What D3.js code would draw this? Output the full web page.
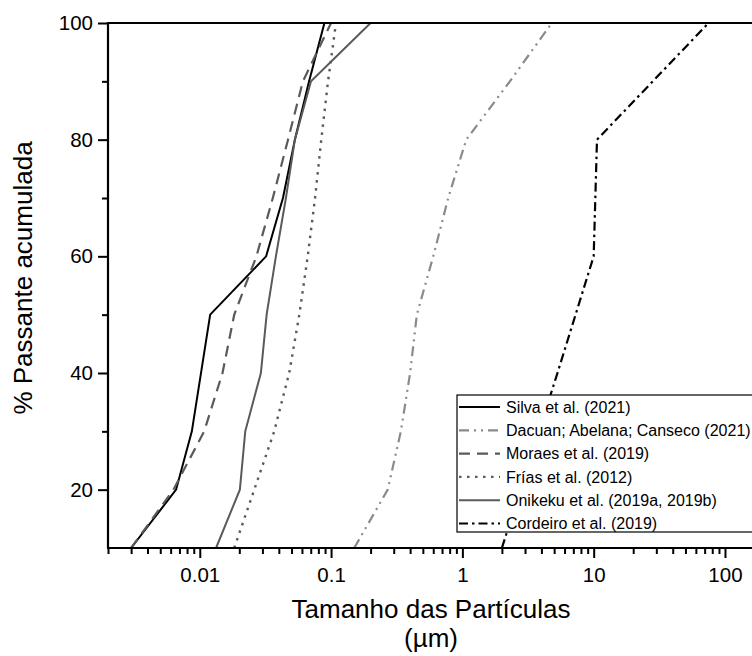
<!DOCTYPE html>
<html>
<head>
<meta charset="utf-8">
<script src="https://cdn.jsdelivr.net/npm/d3@7"></script>
<style>
  html, body { margin: 0; padding: 0; background: #fff; }
  svg { display: block; font-family: "Liberation Sans", Arial, sans-serif; }
</style>
</head>
<body>
<svg id="chart" width="752" height="656"></svg>
<script>
// ---- data (particle size in µm, cumulative % passing) ----
const seriesNames = [
  "Silva et al. (2021)",
  "Dacuan; Abelana; Canseco (2021)",
  "Moraes et al. (2019)",
  "Frías et al. (2012)",
  "Onikeku et al. (2019a, 2019b)",
  "Cordeiro et al. (2019)"
];
const silva    = [[0.003,10],[0.0066,20],[0.0087,30],[0.012,50],[0.032,60],[0.043,70],[0.053,80],[0.068,90],[0.089,100]];
const dacuan   = [[0.15,10],[0.27,20],[0.34,30],[0.40,40],[0.45,50],[0.60,60],[0.78,70],[1.07,80],[2.3,90],[4.8,100]];
const moraes   = [[0.003,10],[0.0063,20],[0.0108,30],[0.0149,40],[0.0183,50],[0.027,60],[0.036,70],[0.047,80],[0.061,90],[0.1,100]];
const frias    = [[0.0183,10],[0.026,20],[0.0369,30],[0.048,40],[0.0573,50],[0.0664,60],[0.0755,70],[0.0842,80],[0.0948,90],[0.109,100]];
const onikeku  = [[0.0133,10],[0.0202,20],[0.0222,30],[0.0292,40],[0.0323,50],[0.038,60],[0.0453,70],[0.053,80],[0.0703,90],[0.2,100]];
const cordeiro = [[2.0,10],[5.3,40],[10.0,60],[10.6,80],[75,100]];
const xDomain = [0.002, 1000];
const yDomain = [10, 100];
const xMajorTicks = [0.01, 0.1, 1, 10, 100];
const xTickLabels = ["0.01", "0.1", "1", "10", "100"];
const yMajorTicks = [20, 40, 60, 80, 100];
const yMinorTicks = [30, 50, 70, 90];
const xTitle = ["Tamanho das Partículas", "(µm)"];
const yTitle = "% Passante acumulada";

// ---- styles ----
const styles = [
  { data: silva,    color: "#000",    width: 2,   dash: null },
  { data: dacuan,   color: "#8a8a8a", width: 2.2, dash: "10,5,2,5,2,5" },
  { data: moraes,   color: "#5a5a5a", width: 2.2, dash: "11,7" },
  { data: frias,    color: "#5a5a5a", width: 2.4, dash: "2.5,5.5" },
  { data: onikeku,  color: "#5a5a5a", width: 2,   dash: null },
  { data: cordeiro, color: "#000",    width: 2.2, dash: "9,4,2.5,4" }
];

const svg = d3.select("#chart");
const mLeft = 108, mTop = 23, mBottom = 548;
const decade = 131.3;
const x = d3.scaleLog().domain(xDomain)
  .range([mLeft, mLeft + decade * Math.log10(xDomain[1] / xDomain[0])]);
const y = d3.scaleLinear().domain(yDomain).range([mBottom, mTop]);

// lines
const line = d3.line().x(d => x(d[0])).y(d => y(d[1]));
styles.forEach(s => {
  svg.append("path").datum(s.data)
    .attr("d", line)
    .attr("fill", "none")
    .attr("stroke", s.color)
    .attr("stroke-width", s.width)
    .attr("stroke-dasharray", s.dash)
    .attr("stroke-linejoin", "miter");
});

// x minor ticks
const xMinor = [];
for (let e = -3; e <= 2; e++) {
  for (let m = 2; m <= 9; m++) {
    const v = m * Math.pow(10, e);
    if (v >= xDomain[0] && v <= xDomain[1]) xMinor.push(v);
  }
}
const gx = svg.append("g").attr("transform", `translate(0,${mBottom})`)
  .call(d3.axisBottom(x).tickValues(xMajorTicks)
    .tickFormat((d, i) => xTickLabels[i]).tickSize(10).tickPadding(9));
gx.select(".domain").remove();
gx.selectAll(".tick line").attr("stroke", "#000").attr("stroke-width", 2);
gx.selectAll(".tick text").attr("font-size", 20.5).attr("fill", "#000")
  .attr("font-family", "Liberation Sans, Arial, sans-serif");
const gxm = svg.append("g").attr("transform", `translate(0,${mBottom})`)
  .call(d3.axisBottom(x).tickValues(xMinor).tickSize(6).tickFormat(""));
gxm.select(".domain").remove();
gxm.selectAll(".tick line").attr("stroke", "#000").attr("stroke-width", 2);

// y axis
const gy = svg.append("g").attr("transform", `translate(${mLeft},0)`)
  .call(d3.axisLeft(y).tickValues(yMajorTicks).tickSize(10).tickPadding(5));
gy.select(".domain").remove();
gy.selectAll(".tick line").attr("stroke", "#000").attr("stroke-width", 2);
gy.selectAll(".tick text").attr("font-size", 20.5).attr("fill", "#000")
  .attr("font-family", "Liberation Sans, Arial, sans-serif");
const gym = svg.append("g").attr("transform", `translate(${mLeft},0)`)
  .call(d3.axisLeft(y).tickValues(yMinorTicks).tickSize(6).tickFormat(""));
gym.select(".domain").remove();
gym.selectAll(".tick line").attr("stroke", "#000").attr("stroke-width", 2);

// frame lines (left, bottom, top)
svg.append("line").attr("x1", mLeft).attr("x2", mLeft).attr("y1", mTop - 1).attr("y2", mBottom + 1)
  .attr("stroke", "#000").attr("stroke-width", 2.2);
svg.append("line").attr("x1", mLeft - 1).attr("x2", 752).attr("y1", mBottom).attr("y2", mBottom)
  .attr("stroke", "#000").attr("stroke-width", 2.2);
svg.append("line").attr("x1", mLeft - 1).attr("x2", 752).attr("y1", mTop).attr("y2", mTop)
  .attr("stroke", "#000").attr("stroke-width", 2.2);

// axis titles
svg.append("text").attr("x", 431).attr("y", 618).attr("text-anchor", "middle")
  .attr("font-size", 26).text(xTitle[0]);
svg.append("text").attr("x", 431).attr("y", 647).attr("text-anchor", "middle")
  .attr("font-size", 26).text(xTitle[1]);
svg.append("text").attr("transform", `translate(32,278) rotate(-90)`)
  .attr("text-anchor", "middle").attr("font-size", 26).text(yTitle);

// legend
const lg = svg.append("g");
const lx = 457, ly = 395, lh = 137, rowH = 23.3;
lg.append("rect").attr("x", lx).attr("y", ly).attr("width", 320).attr("height", lh)
  .attr("fill", "#fff").attr("stroke", "#000").attr("stroke-width", 1.2);
seriesNames.forEach((name, i) => {
  const cy = ly + 12 + i * rowH;
  const s = styles[i];
  lg.append("line").attr("x1", lx + 2).attr("x2", lx + 43).attr("y1", cy).attr("y2", cy)
    .attr("stroke", s.color).attr("stroke-width", s.width).attr("stroke-dasharray", s.dash);
  lg.append("text").attr("x", lx + 49).attr("y", cy).attr("dy", "0.35em")
    .attr("font-size", 16).text(name);
});
</script>
</body>
</html>
